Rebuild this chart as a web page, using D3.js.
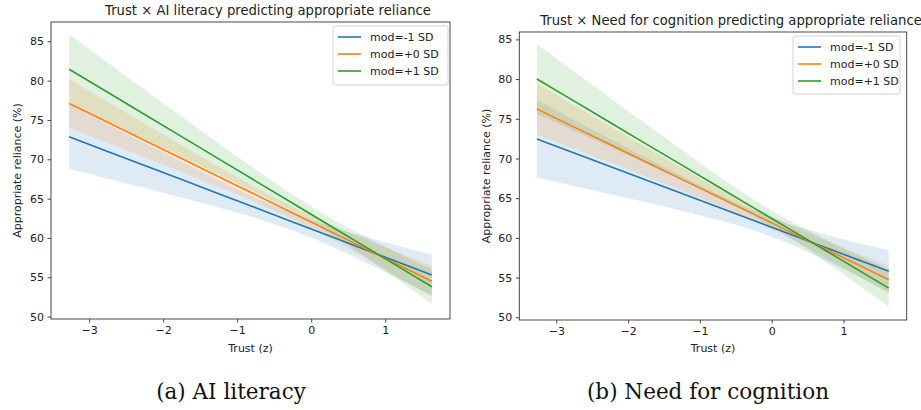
<!DOCTYPE html>
<html>
<head>
<meta charset="utf-8">
<script src="https://cdn.jsdelivr.net/npm/d3@7"></script>
<style>
  body { margin: 0; background: #fff; }
  svg { display: block; font-family: "DejaVu Sans", sans-serif; }
</style>
</head>
<body>
<div id="graph"></div>
<script>
// data: trust (z) grid the fitted lines and CIs are read at
var trustZ = [-3.27, -2.75, -2.25, -1.75, -1.25, -0.75, -0.25, 0.25, 0.75, 1.25, 1.63];

var seriesNames = ["mod=-1 SD", "mod=+0 SD", "mod=+1 SD"];
var yTicks = [50, 55, 60, 65, 70, 75, 80, 85];
var xTicks = [-3, -2, -1, 0, 1];

// (a) AI literacy
var litLowFit  = [72.87, 71.00, 69.21, 67.42, 65.62, 63.83, 62.04, 60.24, 58.45, 56.66, 55.30];
var litLowLo   = [68.77, 67.54, 66.35, 65.14, 63.88, 62.53, 60.94, 59.00, 56.81, 54.50, 52.70];
var litLowHi   = [76.97, 74.46, 72.07, 69.70, 67.36, 65.13, 63.14, 61.48, 60.09, 58.82, 57.90];
var litMidFit  = [77.10, 74.70, 72.40, 70.09, 67.79, 65.48, 63.17, 60.87, 58.56, 56.25, 54.50];
var litMidLo   = [74.00, 72.09, 70.25, 68.38, 66.49, 64.52, 62.37, 59.96, 57.34, 54.63, 52.54];
var litMidHi   = [80.20, 77.31, 74.55, 71.80, 69.09, 66.44, 63.97, 61.78, 59.78, 57.87, 56.46];
var litHighFit = [81.45, 78.52, 75.70, 72.88, 70.05, 67.23, 64.41, 61.59, 58.77, 55.95, 53.80];
var litHighLo  = [77.05, 74.76, 72.55, 70.32, 68.06, 65.76, 63.32, 60.57, 57.47, 54.18, 51.62];
var litHighHi  = [85.85, 82.28, 78.85, 75.44, 72.04, 68.70, 65.50, 62.61, 60.07, 57.72, 55.98];

// (b) Need for cognition
var nfcLowFit  = [72.46, 70.69, 68.99, 67.29, 65.59, 63.89, 62.19, 60.49, 58.79, 57.09, 55.80];
var nfcLowLo   = [67.56, 66.52, 65.51, 64.48, 63.41, 62.27, 60.94, 59.24, 57.17, 54.91, 53.15];
var nfcLowHi   = [77.36, 74.86, 72.47, 70.10, 67.77, 65.51, 63.44, 61.74, 60.41, 59.27, 58.45];
var nfcMidFit  = [76.23, 73.95, 71.76, 69.56, 67.37, 65.18, 62.99, 60.79, 58.60, 56.41, 54.74];
var nfcMidLo   = [73.03, 71.22, 69.48, 67.72, 65.94, 64.11, 62.16, 59.96, 57.53, 54.98, 53.00];
var nfcMidHi   = [79.43, 76.68, 74.04, 71.40, 68.80, 66.25, 63.82, 61.62, 59.67, 57.84, 56.48];
var nfcHighFit = [80.01, 77.22, 74.53, 71.84, 69.16, 66.47, 63.78, 61.10, 58.41, 55.72, 53.68];
var nfcHighLo  = [75.64, 73.50, 71.44, 69.35, 67.25, 65.07, 62.73, 60.05, 57.01, 53.81, 51.33];
var nfcHighHi  = [84.38, 80.94, 77.62, 74.33, 71.07, 67.87, 64.83, 62.15, 59.81, 57.63, 56.03];

var colors = ["#1f77b4", "#ff7f0e", "#2ca02c"];

var svg = d3.select("#graph")
            .append("svg")
            .attr("width", 921).attr("height", 410);

// panel layouts (pixel boxes picked to match the figure)
var panels = [
  {
    title: "Trust \u00d7 AI literacy predicting appropriate reliance",
    caption: "(a) AI literacy",
    box: {l: 51, t: 22, r: 450, b: 319},
    xDomain: [-3.515, 1.875], yDomain: [49.7, 87.45],
    titleX: 268, titleY: 15, ylabX: 21, captionX: 231,
    legend: {x: 333, y: 26, w: 115, h: 59},
    series: [
      {fit: litLowFit, lo: litLowLo, hi: litLowHi},
      {fit: litMidFit, lo: litMidLo, hi: litMidHi},
      {fit: litHighFit, lo: litHighLo, hi: litHighHi}
    ]
  },
  {
    title: "Trust \u00d7 Need for cognition predicting appropriate reliance",
    caption: "(b) Need for cognition",
    box: {l: 519.3, t: 32, r: 906.7, b: 320},
    xDomain: [-3.515, 1.88], yDomain: [49.66, 85.93],
    titleX: 731, titleY: 25, ylabX: 490, captionX: 708,
    legend: {x: 793, y: 36, w: 107, h: 58},
    series: [
      {fit: nfcLowFit, lo: nfcLowLo, hi: nfcLowHi},
      {fit: nfcMidFit, lo: nfcMidLo, hi: nfcMidHi},
      {fit: nfcHighFit, lo: nfcHighLo, hi: nfcHighHi}
    ]
  }
];

panels.forEach(function(p) {
  var b = p.box;
  var xScale = d3.scaleLinear().domain(p.xDomain).range([b.l, b.r]);
  var yScale = d3.scaleLinear().domain(p.yDomain).range([b.b, b.t]);

  var g = svg.append("g");

  // confidence bands
  p.series.forEach(function(s, i) {
    var area = d3.area()
      .x(function(d, j) { return xScale(trustZ[j]); })
      .y0(function(d, j) { return yScale(s.lo[j]); })
      .y1(function(d, j) { return yScale(s.hi[j]); })
      .curve(d3.curveMonotoneX);
    g.append("path")
      .attr("d", area(s.fit))
      .attr("fill", colors[i])
      .attr("fill-opacity", 0.15);
  });

  // fitted lines
  p.series.forEach(function(s, i) {
    var line = d3.line()
      .x(function(d, j) { return xScale(trustZ[j]); })
      .y(function(d) { return yScale(d); });
    g.append("path")
      .attr("d", line(s.fit))
      .attr("fill", "none")
      .attr("stroke", colors[i])
      .attr("stroke-width", 1.6);
  });

  // axes
  var xAxis = d3.axisBottom(xScale).tickValues(xTicks).tickFormat(d3.format("d"))
    .tickSize(3.5).tickPadding(3.5).tickSizeOuter(0);
  var yAxis = d3.axisLeft(yScale).tickValues(yTicks).tickFormat(d3.format("d"))
    .tickSize(3.5).tickPadding(3.5).tickSizeOuter(0);

  var gx = g.append("g")
    .attr("transform", "translate(0," + b.b + ")")
    .call(xAxis);
  var gy = g.append("g")
    .attr("transform", "translate(" + b.l + ",0)")
    .call(yAxis);

  [gx, gy].forEach(function(a) {
    a.select(".domain").remove();
    a.selectAll("line").attr("stroke", "#333").attr("stroke-width", 0.9);
    a.selectAll("text").attr("font-size", 11).attr("fill", "#222")
      .attr("font-family", "DejaVu Sans");
  });

  // frame
  g.append("rect")
    .attr("x", b.l).attr("y", b.t)
    .attr("width", b.r - b.l).attr("height", b.b - b.t)
    .attr("fill", "none").attr("stroke", "#333").attr("stroke-width", 0.9);

  // title and labels
  g.append("text")
    .attr("x", p.titleX).attr("y", p.titleY)
    .attr("text-anchor", "middle").attr("font-size", 13.2).attr("fill", "#222")
    .text(p.title);

  g.append("text")
    .attr("x", (b.l + b.r) / 2).attr("y", 352)
    .attr("text-anchor", "middle").attr("font-size", 11).attr("fill", "#222")
    .text("Trust (z)");

  g.append("text")
    .attr("transform", "translate(" + p.ylabX + "," + ((b.t + b.b) / 2) + ") rotate(-90)")
    .attr("text-anchor", "middle").attr("font-size", 11).attr("fill", "#222")
    .text("Appropriate reliance (%)");

  // legend
  var L = p.legend;
  var lg = g.append("g").attr("transform", "translate(" + L.x + "," + L.y + ")");
  lg.append("rect")
    .attr("width", L.w).attr("height", L.h).attr("rx", 2.5)
    .attr("fill", "#fff").attr("fill-opacity", 0.8)
    .attr("stroke", "#ccc").attr("stroke-width", 0.9);
  seriesNames.forEach(function(name, i) {
    var yy = 11 + 17 * i;
    lg.append("line")
      .attr("x1", 5).attr("x2", 28).attr("y1", yy).attr("y2", yy)
      .attr("stroke", colors[i]).attr("stroke-width", 1.6);
    lg.append("text")
      .attr("x", 37).attr("y", yy + 4)
      .attr("font-size", 11).attr("fill", "#222")
      .text(name);
  });

  // subfigure caption
  svg.append("text")
    .attr("x", p.captionX).attr("y", 399)
    .attr("text-anchor", "middle")
    .attr("font-family", "DejaVu Serif").attr("font-size", 21.5).attr("fill", "#111")
    .text(p.caption);
});
</script>
</body>
</html>
